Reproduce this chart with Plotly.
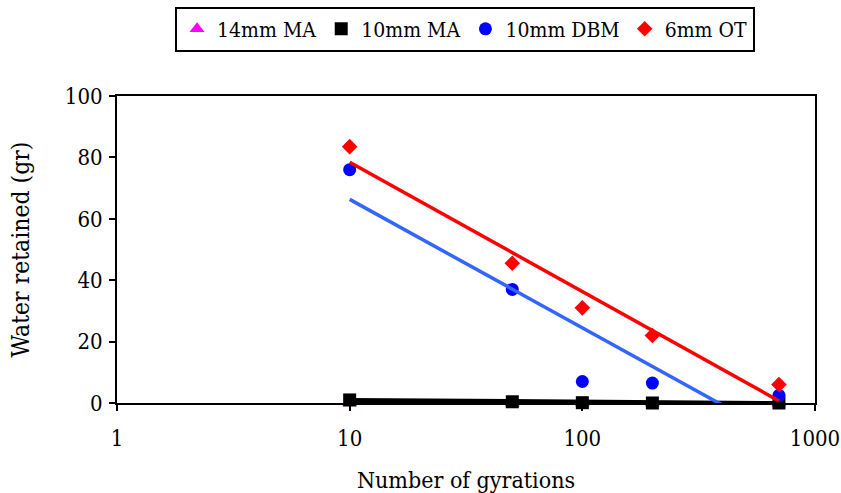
import numpy as np
import plotly.graph_objects as go

gyrations = [10, 50, 100, 200, 700]
ma14 = [0.0, 0.0, 0.0, 0.0, 0.0]
ma10 = [1.0, 0.4, 0.1, 0.0, 0.0]
dbm10 = [76.0, 37.0, 7.0, 6.5, 2.5]
ot6 = [83.5, 45.5, 31.0, 22.0, 6.0]

x_ticks = [1, 10, 100, 1000]
y_ticks = [0, 20, 40, 60, 80, 100]

FONT = "DejaVu Serif Condensed"


def trend(xs, ys):
    lx = np.log(np.array(xs, dtype=float))
    b, a = np.polyfit(lx, np.array(ys, dtype=float), 1)
    xg = np.logspace(np.log10(min(xs)), np.log10(max(xs)), 200)
    return xg, a + b * np.log(xg)


fig = go.Figure()

series = [
    ("14mm MA", ma14, dict(symbol="triangle-up", color="#FF00FF", size=13)),
    ("10mm MA", ma10, dict(symbol="square", color="#000000", size=13)),
    ("10mm DBM", dbm10, dict(symbol="circle", color="#0000FF", size=13)),
    ("6mm OT", ot6, dict(symbol="diamond", color="#FF0000", size=12)),
]
for name, ys, mk in series:
    fig.add_trace(go.Scatter(x=gyrations, y=ys, mode="markers", name=name,
                             marker=dict(line=dict(width=0), **mk), cliponaxis=False))

for ys, col, w in [(ma10, "#000000", 5), (dbm10, "#3366FF", 3.5), (ot6, "#FF0000", 3.5)]:
    xg, yg = trend(gyrations, ys)
    fig.add_trace(go.Scatter(x=xg, y=yg, mode="lines", showlegend=False,
                             line=dict(color=col, width=w), hoverinfo="skip"))

fig.update_layout(
    width=841, height=493,
    margin=dict(l=117, r=26, t=96, b=90, autoexpand=False),
    paper_bgcolor="white", plot_bgcolor="white",
    font=dict(family=FONT, size=22, color="black"),
    showlegend=True,
    legend=dict(orientation="h", x=0.4986, xanchor="center", y=1.291, yanchor="top",
                bordercolor="black", borderwidth=2, bgcolor="white",
                font=dict(family=FONT, size=21), itemwidth=30, tracegroupgap=0),
    xaxis=dict(type="log", range=[0, 3], tickvals=x_ticks, ticktext=[str(v) for v in x_ticks],
               showgrid=False, zeroline=False, showline=True, linecolor="black", linewidth=2,
               mirror=True, ticks="outside", ticklen=6, tickwidth=1.5, tickcolor="black",
               tickfont=dict(size=22, family=FONT), automargin=False, ticklabelstandoff=9,
               title=dict(text="Number of gyrations", font=dict(size=23, family=FONT), standoff=23)),
    yaxis=dict(range=[0, 100], tickvals=y_ticks, showgrid=False, zeroline=False,
               showline=True, linecolor="black", linewidth=2, mirror=True,
               ticks="outside", ticklen=6, tickwidth=1.5, tickcolor="black",
               tickfont=dict(size=22, family=FONT), automargin=False, ticklabelstandoff=2,
               title=dict(text="Water retained (gr)", font=dict(size=24.5, family=FONT), standoff=28)),
)

fig.write_html("out.html")
